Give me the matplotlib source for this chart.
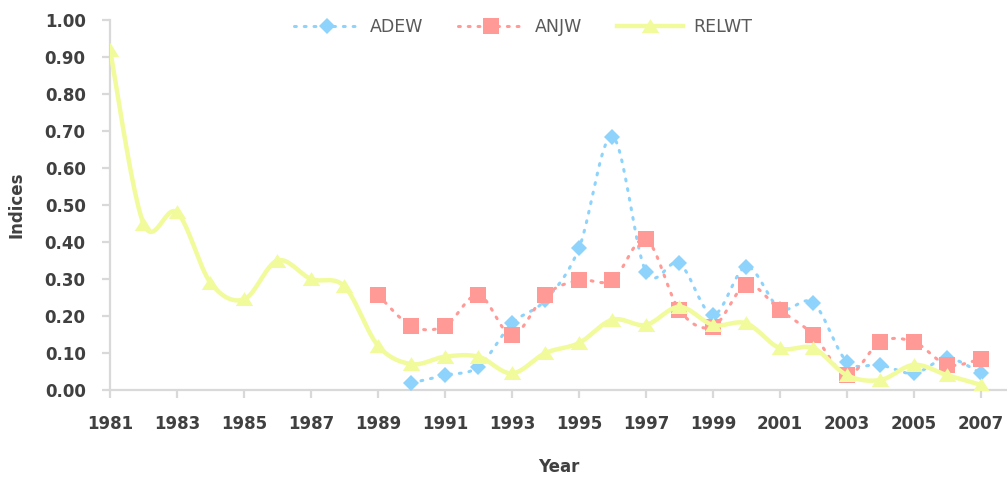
import numpy as np
import matplotlib
matplotlib.use("Agg")
import matplotlib.pyplot as plt
from matplotlib.path import Path

# ---- data -------------------------------------------------------------
relwt_years = list(range(1981, 2008))
relwt = [0.92, 0.45, 0.48, 0.29, 0.245, 0.35, 0.30, 0.28, 0.12, 0.07,
         0.09, 0.09, 0.045, 0.10, 0.127, 0.19, 0.176, 0.225, 0.176, 0.18,
         0.113, 0.113, 0.04, 0.027, 0.068, 0.04, 0.014]

adew_years = list(range(1990, 2008))
adew = [0.019, 0.04, 0.063, 0.18, 0.243, 0.383, 0.685, 0.32, 0.342, 0.203,
        0.333, 0.22, 0.235, 0.077, 0.068, 0.045, 0.086, 0.045]

anjw_years = list(range(1989, 2008))
anjw = [0.257, 0.173, 0.173, 0.257, 0.149, 0.257, 0.297, 0.297, 0.407, 0.216,
        0.171, 0.284, 0.216, 0.149, 0.04, 0.13, 0.13, 0.068, 0.084]

xtick_years = list(range(1981, 2008, 2))
ytick_vals = [i / 10 for i in range(0, 11)]


def smooth(x, y, n=24):
    """Catmull-Rom curve through the given points (spreadsheet-style smoothing)."""
    x = np.asarray(x, float)
    y = np.asarray(y, float)
    px = np.concatenate([[x[0]], x, [x[-1]]])
    py = np.concatenate([[y[0]], y, [y[-1]]])
    xs, ys = [], []
    t = np.linspace(0, 1, n, endpoint=False)
    for i in range(1, len(px) - 2):
        p0, p1, p2, p3 = (np.array([px[j], py[j]]) for j in range(i - 1, i + 3))
        for tt in t:
            pt = 0.5 * ((2 * p1) + (-p0 + p2) * tt
                        + (2 * p0 - 5 * p1 + 4 * p2 - p3) * tt ** 2
                        + (-p0 + 3 * p1 - 3 * p2 + p3) * tt ** 3)
            xs.append(pt[0])
            ys.append(pt[1])
    xs.append(x[-1])
    ys.append(y[-1])
    return np.array(xs), np.array(ys)


blue = "#8ED3FB"
red = "#FF9A96"
yellow = "#F1FB9B"
text_col = "#404040"
axis_col = "#D9D9D9"
dots = (0, (0.6, 2.6))

plt.rcParams["xtick.major.pad"] = 12.5
plt.rcParams["ytick.major.pad"] = 12

wide_tri = Path([(-1.0, -0.75), (1.0, -0.75), (0.0, 0.85), (-1.0, -0.75)],
                [Path.MOVETO, Path.LINETO, Path.LINETO, Path.CLOSEPOLY])

fig = plt.figure(figsize=(10.07, 4.8), dpi=100)
ax = fig.add_axes([110 / 1007, 90 / 480, 1 - 110 / 1007, 370 / 480])

# ADEW
sx, sy = smooth(adew_years, adew)
ax.plot(sx, sy, color=blue, lw=2.2, linestyle=dots,
        dash_capstyle="round", zorder=2)
ax.plot(adew_years, adew, linestyle="none", marker="D", markersize=7.8,
        color=blue, markeredgewidth=0, zorder=3)

# ANJW
sx, sy = smooth(anjw_years, anjw)
ax.plot(sx, sy, color=red, lw=2.2, linestyle=dots,
        dash_capstyle="round", zorder=4)
ax.plot(anjw_years, anjw, linestyle="none", marker="s", markersize=12,
        color=red, markeredgewidth=0, zorder=5)

# RELWT
sx, sy = smooth(relwt_years, relwt)
ax.plot(sx, sy, color=yellow, lw=3.2, solid_capstyle="round", zorder=6)
ax.plot(relwt_years, relwt, linestyle="none", marker=wide_tri, markersize=12.5,
        color=yellow, markeredgewidth=0, zorder=7)

# legend handles
h_adew, = ax.plot([], [], color=blue, lw=2.2, linestyle=dots,
                  dash_capstyle="round", marker="D", markersize=7.8,
                  markeredgewidth=0, label="ADEW")
h_anjw, = ax.plot([], [], color=red, lw=2.2, linestyle=dots,
                  dash_capstyle="round", marker="s", markersize=11.5,
                  markeredgewidth=0, label="ANJW")
h_relwt, = ax.plot([], [], color=yellow, lw=3.2, marker=wide_tri,
                   markersize=12.5, markeredgewidth=0, label="RELWT")
leg = fig.legend(handles=[h_adew, h_anjw, h_relwt], loc="center",
                 bbox_to_anchor=(523 / 1007, 1 - 27 / 480), ncol=3,
                 frameon=False, fontsize=12.5, handlelength=3.8,
                 handletextpad=0.6, columnspacing=2.0)
for t in leg.get_texts():
    t.set_color("#595959")

# axes styling
ax.set_xlim(1981, 2007.78)
ax.set_ylim(0, 1.0)
ax.set_xticks(xtick_years)
ax.set_xticklabels([str(y) for y in xtick_years])
ax.set_yticks(ytick_vals)
ax.set_yticklabels([f"{v:.2f}" for v in ytick_vals])

for side in ("top", "right"):
    ax.spines[side].set_visible(False)
for side in ("left", "bottom"):
    ax.spines[side].set_color(axis_col)
    ax.spines[side].set_linewidth(1.6)
    ax.spines[side].set_zorder(1)

ax.tick_params(axis="both", colors=axis_col, width=1.6, length=5.5,
               labelcolor=text_col, labelsize=12)
for lbl in ax.get_xticklabels() + ax.get_yticklabels():
    lbl.set_fontweight("bold")

ax.set_xlabel("Year", fontsize=12, fontweight="bold", color=text_col)
ax.xaxis.set_label_coords(0.5, -(467 - 390) / 370)
ax.xaxis.label.set_va("center")
ax.set_ylabel("Indices", fontsize=12, fontweight="bold", color=text_col)
ax.yaxis.set_label_coords((26 - 110) / 897, 0.5)

fig.savefig("out.png", dpi=100)
